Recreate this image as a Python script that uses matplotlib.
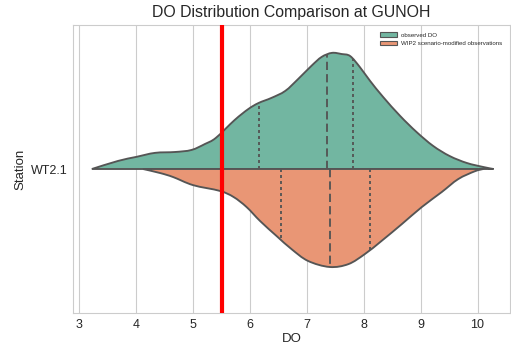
import numpy as np
import matplotlib
matplotlib.use("Agg")
import matplotlib.pyplot as plt
from matplotlib.path import Path
from matplotlib.patches import PathPatch, Patch
import seaborn as sns

sns.set_style("whitegrid")
plt.rcParams["font.family"] = ["Liberation Sans", "DejaVu Sans"]

# Violin half-profiles: DO value and half-width (in category-axis units)
obs_do = [3.22, 3.68, 4.00, 4.33, 4.68, 4.97, 5.21, 5.40, 5.73, 5.97, 6.15, 6.38,
          6.62, 6.85, 7.08, 7.26, 7.44, 7.61, 7.76, 7.93, 8.11, 8.34, 8.64, 8.93,
          9.22, 9.51, 9.81, 10.10, 10.28]
obs_width = [0.000, 0.028, 0.042, 0.056, 0.059, 0.066, 0.087, 0.108, 0.170, 0.208,
             0.229, 0.247, 0.271, 0.313, 0.358, 0.389, 0.403, 0.399, 0.392, 0.354,
             0.306, 0.250, 0.184, 0.128, 0.080, 0.045, 0.021, 0.007, 0.000]
obs_quartiles = [6.15, 7.36, 7.81]

wip_do = [4.12, 4.42, 4.65, 5.00, 5.47, 5.71, 5.94, 6.18, 6.47, 6.73, 7.02, 7.40,
          7.73, 8.02, 8.31, 8.67, 9.02, 9.37, 9.66, 9.95, 10.10]
wip_width = [0.000, 0.014, 0.028, 0.056, 0.076, 0.097, 0.132, 0.181, 0.233, 0.278,
             0.319, 0.340, 0.330, 0.295, 0.250, 0.191, 0.132, 0.080, 0.035, 0.008,
             0.000]
wip_quartiles = [6.54, 7.40, 8.11]

station = "WT2.1"
labels = ["observed DO", "WIP2 scenario-modified observations"]
threshold = 5.5

pal = sns.color_palette("Set2", 2)
colors = [sns.desaturate(c, 0.75) for c in pal]
edge = "#555555"
lw = 1.35


def smooth_half(xs, hs, sign):
    """Catmull-Rom curve through the profile, closed along the centre line."""
    pts = np.column_stack([xs, sign * np.asarray(hs)])
    n = len(pts)
    verts = [tuple(pts[0])]
    codes = [Path.MOVETO]
    for i in range(n - 1):
        p0 = pts[max(i - 1, 0)]
        p1 = pts[i]
        p2 = pts[i + 1]
        p3 = pts[min(i + 2, n - 1)]
        c1 = p1 + (p2 - p0) / 6.0
        c2 = p2 - (p3 - p1) / 6.0
        verts += [tuple(c1), tuple(c2), tuple(p2)]
        codes += [Path.CURVE4] * 3
    verts.append((xs[0], 0.0))
    codes.append(Path.LINETO)
    verts.append((xs[0], 0.0))
    codes.append(Path.CLOSEPOLY)
    return Path(verts, codes)


fig = plt.figure(figsize=(5.11, 3.51), dpi=100)
ax = fig.add_axes([0.143, 0.108, 0.855, 0.821])

for xs, hs, qs, sign, col in [(obs_do, obs_width, obs_quartiles, 1, colors[0]),
                              (wip_do, wip_width, wip_quartiles, -1, colors[1])]:
    ax.add_patch(PathPatch(smooth_half(xs, hs, sign), facecolor=col,
                           edgecolor=edge, linewidth=lw, zorder=2))
    for k, q in enumerate(qs):
        h = np.interp(q, xs, hs)
        style = (0, (4.4, 2.2)) if k == 1 else (0, (1.6, 1.6))
        ax.plot([q, q], [0, sign * h], color=edge, linewidth=lw,
                linestyle=style, zorder=3)

ax.axvline(threshold, color="red", linewidth=3.0, zorder=4)

ax.set_xlim(2.89, 10.57)
ax.set_ylim(-0.5, 0.5)
ax.set_xticks(range(3, 11))
ax.set_yticks([0])
ax.set_yticklabels([station])
ax.yaxis.grid(False)
ax.tick_params(axis="both", labelsize=9, length=0, pad=4)
ax.set_xlabel("DO", fontsize=9.5, labelpad=2)
ax.set_ylabel("Station", fontsize=9.5, labelpad=3)
ax.set_title("DO Distribution Comparison at GUNOH", fontsize=11.4, pad=6)

handles = [Patch(facecolor=colors[0], edgecolor=edge, linewidth=0.8),
           Patch(facecolor=colors[1], edgecolor=edge, linewidth=0.8)]
ax.legend(handles, labels, loc="upper right", fontsize=4.4, handlelength=2.7,
          frameon=False, borderaxespad=0.8)

fig.savefig("out.png", dpi=100)
